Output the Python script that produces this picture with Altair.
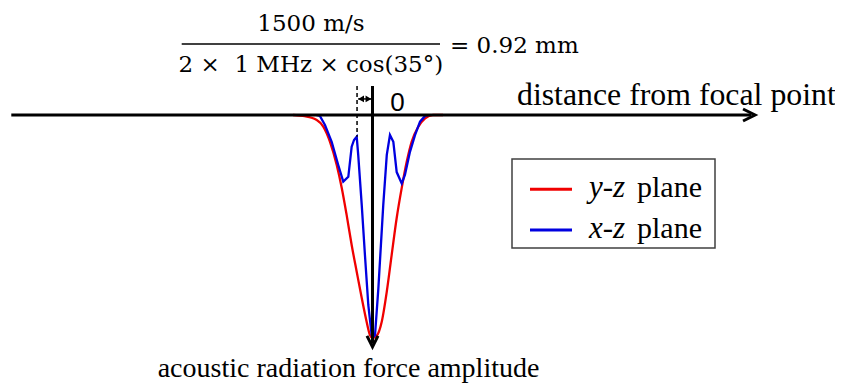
import altair as alt
import pandas as pd

# ---- curve data (x: distance from focal point in mm, y: normalised force amplitude) ----
red_x = [-4.73, -4.14, -3.32, -2.93, -2.53, -2.13, -1.83, -1.54, -1.24, -0.94, -0.64, -0.35, -0.15, 0.0,
         0.25, 0.55, 0.85, 1.14, 1.44, 1.74, 2.04, 2.33, 2.73, 3.13, 3.60, 4.20]
red_y = [0.0, 0.004, 0.022, 0.052, 0.120, 0.224, 0.327, 0.448, 0.583, 0.703, 0.821, 0.927, 0.987, 1.0,
         0.99, 0.927, 0.792, 0.628, 0.462, 0.327, 0.209, 0.120, 0.052, 0.015, 0.0, 0.0]

blue_x = [-3.36, -3.13, -2.83, -2.43, -2.04, -1.74, -1.44, -1.24, -1.10, -0.94, -0.85, -0.64, -0.45, -0.25,
          -0.05, 0.0, 0.15, 0.35, 0.64, 0.85, 1.04, 1.24, 1.44, 1.74, 1.93, 2.23, 2.53, 2.83, 3.13, 3.36]
blue_y = [0.0, 0.004, 0.045, 0.120, 0.224, 0.299, 0.277, 0.142, 0.112, 0.097, 0.179, 0.404, 0.628, 0.852,
          0.987, 1.0, 0.987, 0.776, 0.404, 0.179, 0.090, 0.120, 0.256, 0.307, 0.269, 0.165, 0.090, 0.030, 0.004, 0.0]

series_names = ["y-z plane", "x-z plane"]
series_italic = ["y-z", "x-z"]
series_colors = ["#f00000", "#0000e0"]

half_wavelength_mm = 0.92
axis_x_label = "distance from focal point"
axis_y_label = "acoustic radiation force amplitude"
formula_num = "1500 m/s"
formula_den = "2 × \u00a01 MHz × cos(35°)"
formula_res = "= 0.92 mm"
origin_label = "0"

# ---- layout ----
W, H = 827, 375
PX_PER_MM = 16.8
PX_PER_AMP = 223.0
X0 = 364.5   # plot-px of the focal point
Y0 = 107.0   # plot-px of zero amplitude
XMIN, XMAX = -X0 / PX_PER_MM, (W - X0) / PX_PER_MM
YMIN, YMAX = -Y0 / PX_PER_AMP, (H - Y0) / PX_PER_AMP

xs = alt.Scale(domain=[XMIN, XMAX], nice=False, zero=False)
ys = alt.Scale(domain=[YMIN, YMAX], nice=False, zero=False, reverse=True)

red_df = pd.DataFrame({"x": red_x, "y": red_y})
blue_df = pd.DataFrame({"x": blue_x, "y": blue_y})
one = pd.DataFrame({"k": [0]})

def curve(df, color, interp):
    return alt.Chart(df).mark_line(color=color, strokeWidth=2.3, interpolate=interp).encode(
        x=alt.X("x:Q", scale=xs, axis=None),
        y=alt.Y("y:Q", scale=ys, axis=None),
    )

red = curve(red_df, series_colors[0], "monotone")
blue = curve(blue_df, series_colors[1], "linear")

def text(t, x, y, size, font="Liberation Serif", align="left", style="normal"):
    return alt.Chart(one).mark_text(text=t, font=font, fontSize=size, align=align,
                                    baseline="alphabetic", color="black", fontStyle=style).encode(
        x=alt.value(x), y=alt.value(y))

# axes
h_axis = alt.Chart(one).mark_rule(color="black", strokeWidth=3).encode(
    x=alt.XDatum(-21.5, scale=xs), x2=alt.X2Datum(22.55), y=alt.YDatum(0, scale=ys))
h_head = alt.Chart(one).mark_point(shape="M -1 -0.5 L 0 0 L -1 0.5", size=576, filled=False,
                                   stroke="black", strokeWidth=3, opacity=1, strokeJoin="miter").encode(
    x=alt.XDatum(22.77, scale=xs), y=alt.YDatum(0, scale=ys))
v_axis = alt.Chart(one).mark_rule(color="black", strokeWidth=3).encode(
    x=alt.XDatum(0, scale=xs), y=alt.YDatum(-0.13, scale=ys), y2=alt.Y2Datum(1.025))
v_head = alt.Chart(one).mark_point(shape="M -0.5 -1 L 0 0 L 0.5 -1", size=484, filled=False,
                                   stroke="black", strokeWidth=3, opacity=1, strokeJoin="miter").encode(
    x=alt.XDatum(0, scale=xs), y=alt.YDatum(1.04, scale=ys))

# half-wavelength marker
dash = alt.Chart(one).mark_rule(color="black", strokeWidth=1.5, strokeDash=[4, 3]).encode(
    x=alt.XDatum(-half_wavelength_mm, scale=xs), y=alt.YDatum(-0.13, scale=ys), y2=alt.Y2Datum(0.097))
dbl = alt.Chart(one).mark_rule(color="black", strokeWidth=1.5).encode(
    x=alt.XDatum(-0.85, scale=xs), x2=alt.X2Datum(-0.08), y=alt.YDatum(-0.072, scale=ys))
tri_l = alt.Chart(one).mark_point(shape="triangle-left", size=45, filled=True, color="black", opacity=1).encode(
    x=alt.XDatum(-0.68, scale=xs), y=alt.YDatum(-0.072, scale=ys))
tri_r = alt.Chart(one).mark_point(shape="triangle-right", size=45, filled=True, color="black", opacity=1).encode(
    x=alt.XDatum(-0.24, scale=xs), y=alt.YDatum(-0.072, scale=ys))

# formula
frac = alt.Chart(one).mark_rule(color="black", strokeWidth=1.5).encode(
    x=alt.value(173.7), x2=alt.value(432), y=alt.value(36))
num = text(formula_num, 302.9, 23, 23, font="DejaVu Serif", align="center")
den = text(formula_den, 302.9, 63.7, 23, font="DejaVu Serif", align="center")
res = text(formula_res, 442, 45, 23, font="DejaVu Serif")

zero_lbl = text(origin_label, 389.5, 102.5, 26, font="Liberation Sans", align="center")
xlab = text(axis_x_label, 509, 97, 31.8)
ylab = text(axis_y_label, 340.5, 369, 28, align="center")

# legend
box = alt.Chart(one).mark_rect(fill="white", stroke="#404040", strokeWidth=1.5).encode(
    x=alt.value(504), x2=alt.value(707), y=alt.value(151), y2=alt.value(240))
leg = [box]
for i, yy in enumerate([181.3, 222]):
    leg.append(alt.Chart(one).mark_rule(color=series_colors[i], strokeWidth=3).encode(
        x=alt.value(522), x2=alt.value(564), y=alt.value(yy)))
    leg.append(text(series_italic[i], 581, yy + 7.5, 31, style="italic"))
    leg.append(text(series_names[i].split(" ")[1], 629, yy + 7.5, 30))

chart = alt.layer(
    red, blue, h_axis, h_head, v_axis, v_head, dash, dbl, tri_l, tri_r,
    frac, num, den, res, zero_lbl, xlab, ylab, *leg
).properties(
    width=W, height=H, padding=0, autosize=alt.AutoSizeParams(type="none"),
    background="white"
).configure_view(stroke=None)

chart.save("out.html", embed_options={"renderer": "svg", "actions": False})
